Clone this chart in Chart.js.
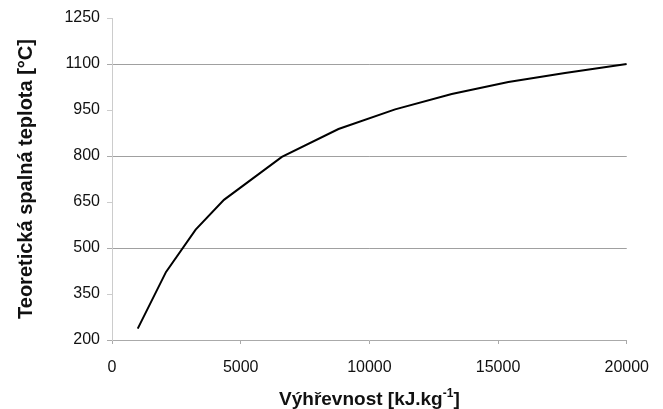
<!DOCTYPE html>
<html>
<head>
<meta charset="utf-8">
<script src="https://cdn.jsdelivr.net/npm/chart.js@4"></script>
<style>
body{margin:0;background:#fff}
#wrap{width:663px;height:409px}
</style>
</head>
<body>
<div id="wrap"><canvas id="chart" width="663" height="409"></canvas></div>
<script>

/* DATA */

const heatValues = [1000,2100,3250,4350,6600,8800,11000,13200,15400,17600,20000]

const temperatures = [237,422,560,657,797,888,952,1002,1041,1071,1100]

const yTicks = [200,350,500,650,800,950,1100,1250]

const xTicks = [0,5000,10000,15000,20000]

const points = heatValues.map((x,i)=>({x:x,y:temperatures[i]}))

const font = "'Liberation Sans', Arial, sans-serif"

/* x title with a real superscript */

const xTitle = {

id:"xTitle",

afterDraw(chart){

const ctx = chart.ctx
const area = chart.chartArea
const main = "Výhřevnost [kJ.kg"
const sup = "-1"
const end = "]"

ctx.save()
ctx.fillStyle = "#111"
ctx.textBaseline = "alphabetic"
ctx.textAlign = "left"

ctx.font = "bold 19px " + font
const w1 = ctx.measureText(main).width
const w3 = ctx.measureText(end).width
ctx.font = "bold 12px " + font
const w2 = ctx.measureText(sup).width

let x = (area.left + area.right) / 2 - (w1 + w2 + w3) / 2
const y = 405

ctx.font = "bold 19px " + font
ctx.fillText(main, x, y)
x += w1
ctx.font = "bold 12px " + font
ctx.fillText(sup, x, y - 8)
x += w2
ctx.font = "bold 19px " + font
ctx.fillText(end, x, y)

ctx.restore()

}

}

const chart = new Chart(

document.getElementById("chart"),

{

type:"line",

data:{

datasets:[{

data:points,

borderColor:"#000",

borderWidth:2,

pointRadius:0,

tension:0,

fill:false

}]

},

options:{

responsive:false,

animation:false,

layout:{padding:{left:0,right:36,top:18,bottom:0}},

plugins:{legend:{display:false},tooltip:{enabled:false}},

scales:{

x:{

type:"linear",

min:0,

max:20000,

afterBuildTicks:s=>{s.ticks = xTicks.map(v=>({value:v}))},

afterFit:s=>{s.height = 69},

border:{color:"#aaa",width:1},

grid:{drawOnChartArea:false,drawTicks:true,tickLength:4,tickColor:"#aaa"},

ticks:{color:"#111",font:{family:font,size:16},padding:14,maxRotation:0,callback:v=>String(v)}

},

y:{

min:200,

max:1250,

afterBuildTicks:s=>{s.ticks = yTicks.map(v=>({value:v}))},

afterFit:s=>{s.width = 112},

border:{color:"#ccc",width:1},

grid:{

color:c=>((c.tick.value-200)%300===0 && c.tick.value>200 && c.tick.value<1250) ? "#a0a0a0" : "rgba(0,0,0,0)",

tickColor:c=>((c.tick.value-200)%300===0) ? "#aaa" : "#ccc",

tickLength:5,

lineWidth:1

},

ticks:{color:"#111",font:{family:font,size:16},padding:7,callback:v=>String(v)},

title:{display:true,text:"Teoretická spalná teplota [°C]",color:"#111",font:{family:font,size:20,weight:"bold"},padding:{top:14,bottom:0}}

}

}

},

plugins:[xTitle]

}

)

</script>
</body>
</html>
